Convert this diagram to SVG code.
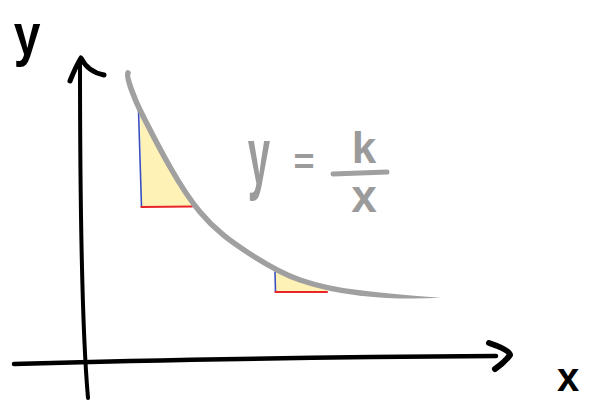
<svg xmlns="http://www.w3.org/2000/svg" width="597" height="401" viewBox="0 0 597 401">
  <style>
    .ink { fill: none; stroke: #000; stroke-linecap: round; stroke-linejoin: round; }
    .grey { fill: none; stroke: #a0a0a0; stroke-linecap: round; stroke-linejoin: round; }
    .lbl { font-family: "Liberation Sans", Arial, sans-serif; font-weight: bold; text-anchor: middle; }
    .fill { fill: #fff2b6; stroke: none; }
    .rise { stroke: #3b4fc0; stroke-width: 1.6; stroke-linecap: round; fill: none; }
    .run { stroke: #e8262a; stroke-width: 2.2; stroke-linecap: round; fill: none; }
  </style>
  <rect width="597" height="401" fill="#fff"/>

  <g id="triangles">
    <path class="fill" d="M140,111 L141.5,207 L192,207 L192,203 L181,186 C176,177 172,170 170,167 C160,149.5 150,130 140,110 Z"/>
    <path class="fill" d="M275,271 L275.5,292 L327,292 L327,288 C310,284 290,276 275,269 Z"/>
    <path class="rise" d="M138.5,110 L141.5,207"/>
    <path class="run" d="M141.5,207 L192,206.5"/>
    <path class="rise" d="M275,272 L275.5,292"/>
    <path class="run" d="M275.5,292 L327,292"/>
  </g>

  <g id="curve">
    <path class="grey" stroke-width="5.5" d="M128,73 C125.5,77 136,102 140,110 C150,130 160,149.5 170,167 C180,184.5 190,200 200,212 C215.7,230.8 231.3,241.7 247,252 C264.7,263.7 282.3,274 300,280 C320,286.8 340,290.8 360,293"/>
    <path fill="#a0a0a0" d="M360,290.3 C386.7,293.2 413.3,296 441,297.8 C413.3,299.2 386.7,298.6 360,295.7 Z"/>
  </g>

  <g id="axes">
    <path class="ink" stroke-width="4" d="M80,60 C80,200 82,330 88,398"/>
    <path class="ink" stroke-width="5" d="M70,81 Q76,66 81,58 Q88,72 104,75"/>
    <path class="ink" stroke-width="4.5" d="M14,364 C150,360 350,357 496,356"/>
    <path class="ink" stroke-width="6" d="M489,343 Q510,350 510,355 Q505,362 495,369"/>
  </g>

  <g id="labels">
    <text class="lbl" font-size="60" fill="#000" transform="translate(27,55) scale(0.8,1)">y</text>
    <text class="lbl" font-size="40" fill="#000" x="568" y="391">x</text>
  </g>

  <g id="equation" fill="#9b9b9b">
    <text class="lbl" font-size="60" transform="translate(259,184) scale(0.67,1.36)">y</text>
    <text class="lbl" font-size="36" x="304" y="174">=</text>
    <text class="lbl" font-size="44" x="364" y="163">k</text>
    <path class="grey" stroke="#9b9b9b" stroke-width="5" d="M333,174 L387,172"/>
    <text class="lbl" font-size="46" x="364" y="212">x</text>
  </g>
</svg>
